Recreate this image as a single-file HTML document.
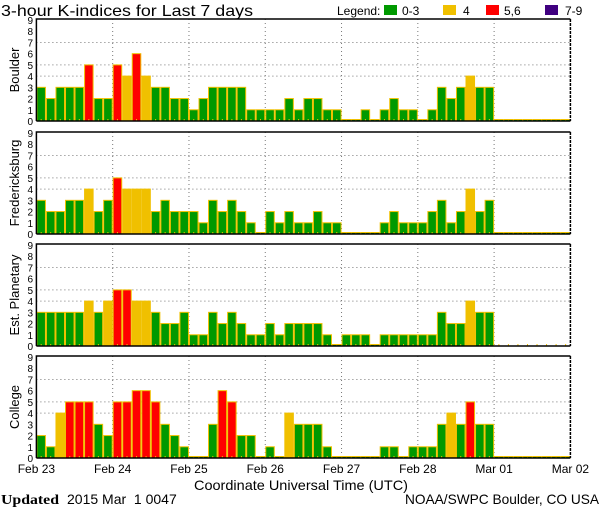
<!DOCTYPE html>
<html><head><meta charset="utf-8"><style>
html,body{margin:0;padding:0;background:#fff;}
svg{display:block;font-family:"Liberation Sans",sans-serif;}
</style></head><body>
<svg id="chart" width="600" height="510" viewBox="0 0 600 510" xmlns="http://www.w3.org/2000/svg">
<text x="1" y="16" font-size="16" fill="#000" textLength="252" lengthAdjust="spacingAndGlyphs">3-hour K-indices for Last 7 days</text>
<g font-size="12">
<text x="337" y="15">Legend:</text>
<rect x="384" y="5" width="13" height="10" fill="#009900"/>
<text x="402" y="15">0-3</text>
<rect x="443" y="5" width="13" height="10" fill="#f0c000"/>
<text x="463" y="15">4</text>
<rect x="486" y="5" width="13" height="10" fill="#ff0000"/>
<text x="504" y="15">5,6</text>
<rect x="545" y="5" width="13" height="10" fill="#400080"/>
<text x="565" y="15">7-9</text>
</g>
<g id="panels"></g>
<text x="194" y="490" font-size="14" textLength="214" lengthAdjust="spacingAndGlyphs">Coordinate Universal Time (UTC)</text>
<text x="1" y="504" font-size="14" font-family="Liberation Serif" font-weight="bold" textLength="58" lengthAdjust="spacingAndGlyphs">Updated</text>
<text x="67" y="504" font-size="14" xml:space="preserve">2015 Mar  1 0047</text>
<text x="405" y="504" font-size="14" textLength="194" lengthAdjust="spacingAndGlyphs">NOAA/SWPC Boulder, CO USA</text>
</svg>
<script>
const stations = ["Boulder","Fredericksburg","Est. Planetary","College"];
const dayLabels = ["Feb 23","Feb 24","Feb 25","Feb 26","Feb 27","Feb 28","Mar 01","Mar 02"];
const yTicks = [0,1,2,3,4,5,6,7,8,9];
const boulder = [3,2,3,3,3,5,2,2, 5,4,6,4,3,3,2,2, 1,2,3,3,3,3,1,1, 1,1,2,1,2,2,1,1, 0,0,1,0,1,2,1,1, 0,1,3,2,3,4,3,3, 0,0,0,0,0,0,0,0];
const fredericksburg = [3,2,2,3,3,4,2,3, 5,4,4,4,2,3,2,2, 2,1,3,2,3,2,1,0, 2,1,2,1,1,2,1,1, 0,0,0,0,1,2,1,1, 1,2,3,1,2,4,2,3, 0,0,0,0,0,0,0,0];
const planetary = [3,3,3,3,3,4,3,4, 5,5,4,4,3,2,2,3, 1,1,3,2,3,2,1,1, 2,1,2,2,2,2,1,0, 1,1,1,0,1,1,1,1, 1,1,3,2,2,4,3,3, null,null,null,null,null,null,null,null];
const college = [2,1,4,5,5,5,3,2, 5,5,6,6,5,3,2,1, 0,0,3,6,5,2,2,0, 1,0,4,3,3,3,1,0, 0,0,0,0,1,1,0,1, 1,1,3,4,3,5,3,3, 0,0,0,0,0,0,0,0];
const seriesList = [boulder, fredericksburg, planetary, college];

const NS = "http://www.w3.org/2000/svg";
const X0 = 36.4, X1 = 570.4, NB = 56;
const panelTops = [19, 132, 244, 356];
const PH = 102;
const xScale = i => X0 + i * (X1 - X0) / NB;
const bw = (X1 - X0) / NB;
function colorFor(v){ return v <= 3 ? "#009900" : v === 4 ? "#f0c000" : v <= 6 ? "#ff0000" : "#400080"; }
function mk(tag, attrs, parent){ const e = document.createElementNS(NS, tag); for (const k in attrs) e.setAttribute(k, attrs[k]); parent.appendChild(e); return e; }
const root = document.getElementById("panels");

stations.forEach((name, p) => {
  const top = panelTops[p], bot = top + PH;
  const yScale = v => bot - v * (PH - 1) / 9;
  const g = mk("g", {}, root);
  
  
  [4,5,7].forEach(v => {
    const l = mk("line", {x1:X0, x2:X1, y1:yScale(v), y2:yScale(v), stroke:"#777", "stroke-width":1, "stroke-dasharray":"1,3"}, g);
    
    
  });
  for (let d = 1; d < 7; d++) {
    const l = mk("line", {x1:xScale(d*8), x2:xScale(d*8), y1:top, y2:bot, stroke:"#777", "stroke-width":1, "stroke-dasharray":"1,3"}, g);
    
    
  }
  const data = seriesList[p];
  data.forEach((v, i) => {
    const x = xScale(i);
    if (v !== null) {
      const h = Math.max(v * (PH - 1) / 9, 1.5);
      const r = mk("rect", {x:x+0.5, y:bot-h, width:bw-1, height:h, fill:colorFor(v), stroke:"#f0c000", "stroke-width":1}, g);
      
      
    }
    const t = mk("line", {x1:x+bw/2, x2:x+bw/2, y1:bot-2, y2:bot, stroke:"#f0c000", "stroke-width":1}, g);
    
    
  });
  const frame = mk("path", {d:`M${X0},${bot} L${X0},${top} L${X1},${top}`, fill:"none", stroke:"#000", "stroke-width":1.5}, g);
  
  
  const bl = mk("line", {x1:X0, x2:X1, y1:bot, y2:bot, stroke:"#000", "stroke-width":1.5}, g);
  
  
  const rl = mk("line", {x1:X1, x2:X1, y1:top, y2:bot, stroke:"#000", "stroke-width":1.5, "stroke-dasharray":"3,1"}, g);
  
  
  yTicks.forEach(v => {
    const t = mk("text", {x:33, y:yScale(v)+4, "font-size":10, "text-anchor":"end"}, g);
    t.textContent = v;
    
    
  });
  const cy = top + PH/2;
  const lab = mk("text", {x:0, y:0, "font-size":13, "text-anchor":"middle", transform:`translate(19,${cy}) rotate(-90)`}, g);
  lab.textContent = name;
  
  
});

dayLabels.forEach((lbl, d) => {
  const t = mk("text", {x:xScale(d*8), y:473, "font-size":12, "text-anchor":"middle"}, root);
  t.textContent = lbl;
  
  
});
</script>
</body></html>
